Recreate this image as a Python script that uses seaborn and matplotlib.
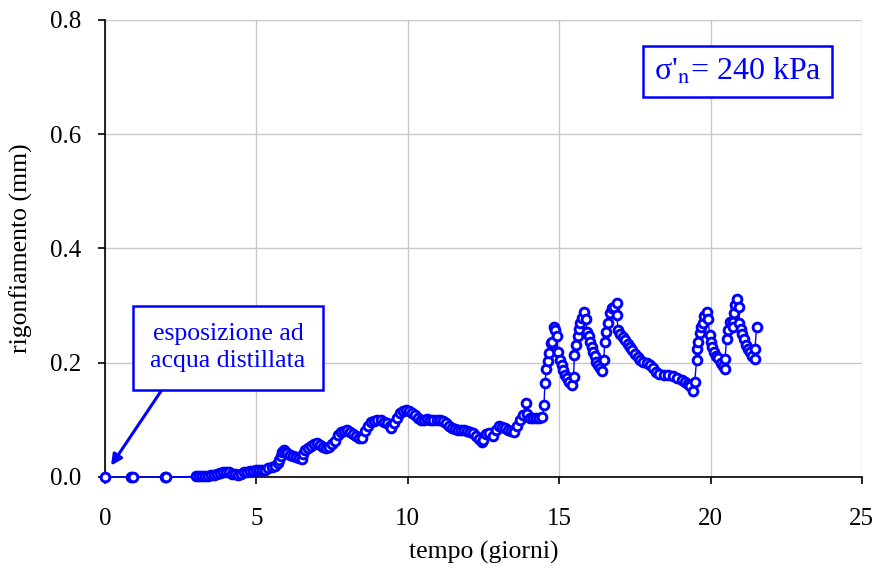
import matplotlib
matplotlib.use("Agg")
import matplotlib.pyplot as plt
import seaborn as sns
import pandas as pd

# tempo (giorni) / rigonfiamento (mm)
days = [0.0, 0.87, 0.92, 1.97, 2.02, 3.0, 3.1, 3.2, 3.3,
        3.4, 3.5, 3.6, 3.7, 3.8, 3.9, 4.0, 4.1, 4.2, 4.3, 4.4, 4.5, 4.6, 4.7, 4.8, 4.9,
        5.0, 5.1, 5.2, 5.3, 5.4, 5.5, 5.6, 5.7, 5.75, 5.8, 5.85, 5.9, 5.95,
        6.0, 6.1, 6.2, 6.3, 6.4, 6.5, 6.55, 6.6, 6.7, 6.8, 6.9,
        7.0, 7.1, 7.2, 7.3, 7.4, 7.5, 7.6, 7.7, 7.8, 7.9,
        8.0, 8.1, 8.2, 8.3, 8.4, 8.5, 8.6, 8.7, 8.8, 8.9,
        9.0, 9.1, 9.2, 9.3, 9.4, 9.45, 9.55, 9.65, 9.75, 9.85, 9.95,
        10.05, 10.15, 10.25, 10.35, 10.45, 10.55, 10.65, 10.75, 10.85, 10.95,
        11.05, 11.15, 11.25, 11.35, 11.45, 11.55, 11.65, 11.75, 11.85, 11.95,
        12.05, 12.15, 12.25, 12.35, 12.45, 12.5, 12.6, 12.7, 12.8, 12.9,
        13.0, 13.1, 13.2, 13.3, 13.4, 13.5, 13.6, 13.7, 13.8, 13.9, 13.95,
        14.05, 14.15, 14.25, 14.35, 14.45, 14.5, 14.53, 14.58, 14.63, 14.67, 14.72,
        14.77, 14.83, 14.88, 14.92, 14.97, 15.02, 15.08, 15.13, 15.18, 15.25, 15.32,
        15.42, 15.48, 15.5, 15.55, 15.61, 15.64, 15.68, 15.74, 15.82, 15.88, 15.92,
        15.98, 16.01, 16.07, 16.12, 16.18, 16.23, 16.29, 16.36, 16.43, 16.48, 16.5,
        16.54, 16.62, 16.67, 16.73, 16.8, 16.9, 16.9, 16.95, 17.02, 17.1, 17.18,
        17.26, 17.34, 17.42, 17.5, 17.6, 17.68, 17.78, 17.9, 18.0, 18.1, 18.2,
        18.3, 18.45, 18.6, 18.75, 18.9, 19.05, 19.15, 19.25, 19.32, 19.43, 19.48,
        19.54, 19.56, 19.6, 19.65, 19.67, 19.74, 19.78, 19.87, 19.92, 19.97, 20.01,
        20.06, 20.12, 20.18, 20.26, 20.34, 20.4, 20.47, 20.48, 20.53, 20.58, 20.64,
        20.73, 20.73, 20.77, 20.8, 20.86, 20.94, 20.95, 21.0, 21.05, 21.1, 21.17,
        21.25, 21.3, 21.38, 21.47, 21.47, 21.52]
swelling = [0.0, 0.0, 0.0, 0.0, 0.0, 0.001, 0.001, 0.001, 0.002,
            0.002, 0.003, 0.004, 0.005, 0.007, 0.008, 0.009, 0.008, 0.006, 0.005, 0.004, 0.006, 0.008, 0.009, 0.010, 0.011,
            0.012, 0.012, 0.012, 0.013, 0.015, 0.018, 0.020, 0.024, 0.030, 0.036, 0.043, 0.048, 0.044,
            0.042, 0.039, 0.036, 0.035, 0.034, 0.032, 0.040, 0.047, 0.051, 0.055, 0.058,
            0.059, 0.056, 0.053, 0.051, 0.053, 0.057, 0.063, 0.073, 0.079, 0.081,
            0.082, 0.079, 0.075, 0.072, 0.069, 0.068, 0.080, 0.090, 0.096, 0.098,
            0.100, 0.100, 0.097, 0.094, 0.089, 0.085, 0.095, 0.104, 0.112, 0.115, 0.117,
            0.116, 0.112, 0.108, 0.104, 0.099, 0.100, 0.101, 0.100, 0.100, 0.100,
            0.100, 0.098, 0.095, 0.090, 0.086, 0.084, 0.083, 0.082, 0.082, 0.081,
            0.079, 0.077, 0.072, 0.067, 0.062, 0.065, 0.075, 0.077, 0.072, 0.082,
            0.090, 0.088, 0.085, 0.083, 0.080, 0.079, 0.090, 0.099, 0.108, 0.129, 0.111,
            0.104, 0.103, 0.103, 0.104, 0.105, 0.126, 0.164, 0.189, 0.203, 0.217, 0.234,
            0.237, 0.262, 0.257, 0.246, 0.218, 0.205, 0.196, 0.187, 0.179, 0.173, 0.167,
            0.161, 0.175, 0.214, 0.231, 0.246, 0.259, 0.269, 0.278, 0.289, 0.276, 0.253,
            0.246, 0.237, 0.228, 0.219, 0.211, 0.202, 0.196, 0.190, 0.186, 0.204, 0.237,
            0.254, 0.270, 0.287, 0.295, 0.298, 0.305, 0.284, 0.257, 0.250, 0.245, 0.240,
            0.233, 0.228, 0.222, 0.216, 0.210, 0.205, 0.202, 0.200, 0.196, 0.190, 0.183,
            0.180, 0.179, 0.179, 0.176, 0.173, 0.170, 0.167, 0.163, 0.160, 0.151, 0.167,
            0.205, 0.224, 0.237, 0.252, 0.262, 0.269, 0.281, 0.289, 0.276, 0.249, 0.237,
            0.228, 0.219, 0.212, 0.208, 0.199, 0.194, 0.189, 0.206, 0.241, 0.257, 0.272,
            0.272, 0.263, 0.287, 0.301, 0.312, 0.297, 0.269, 0.259, 0.250, 0.241, 0.231,
            0.224, 0.218, 0.212, 0.206, 0.224, 0.262]

x_ticks = [0, 5, 10, 15, 20, 25]
y_ticks = [0.0, 0.2, 0.4, 0.6, 0.8]

df = pd.DataFrame({"tempo": days, "rigonfiamento": swelling})

sns.set_style("white")
plt.rcParams["font.family"] = ["Liberation Serif", "DejaVu Serif"]
plt.rcParams["mathtext.fontset"] = "stix"

fig = plt.figure(figsize=(8.75, 5.69), dpi=100)
ax = fig.add_axes([0.12, 0.1617, 0.865, 0.8033])

blue = "#0000ff"
sns.lineplot(data=df, x="tempo", y="rigonfiamento", ax=ax, sort=False, estimator=None,
             color=blue, linewidth=1.0, marker="o", markersize=6.3,
             markerfacecolor="white", markeredgecolor=blue, markeredgewidth=2.1,
             clip_on=False, zorder=5)

ax.set_xlim(0, 25)
ax.set_ylim(0, 0.8)
ax.set_xticks(x_ticks)
ax.set_yticks(y_ticks)
ax.set_xticklabels([str(t) for t in x_ticks])
ax.set_yticklabels([f"{t:.1f}" for t in y_ticks])
ax.grid(True, color="#c8c8c8", linewidth=1.0)
ax.set_axisbelow(True)
for side in ("top", "right"):
    ax.spines[side].set_visible(False)
for side in ("left", "bottom"):
    ax.spines[side].set_color("black")
    ax.spines[side].set_linewidth(1.2)
ax.tick_params(axis="both", direction="out", length=5, width=1.2, color="black",
               labelsize=18, labelcolor="black", bottom=True, left=True)
ax.tick_params(axis="x", pad=17)
ax.tick_params(axis="y", pad=12)

ax.set_xlabel("tempo (giorni)", fontsize=18.5, color="black", labelpad=8)
ax.set_ylabel("rigonfiamento (mm)", fontsize=18.5, color="black", labelpad=12)

ax.text(20.89, 0.71, "σ'$_\\mathrm{n}$= 240 kPa", fontsize=23, color=blue,
        ha="center", va="center",
        bbox=dict(boxstyle="square,pad=0.32", facecolor="white", edgecolor=blue, linewidth=1.8))

ax.annotate("esposizione ad\nacqua distillata", xy=(0.2, 0.02), xytext=(4.06, 0.226),
            fontsize=18.5, color=blue, ha="center", va="center", linespacing=1.3,
            bbox=dict(boxstyle="square,pad=0.68", facecolor="white", edgecolor=blue, linewidth=1.8),
            arrowprops=dict(arrowstyle="-|>", color=blue, linewidth=2.2,
                            mutation_scale=16, relpos=(0.15, 0.0), shrinkA=0, shrinkB=0))

fig.savefig("out.png", dpi=100)
